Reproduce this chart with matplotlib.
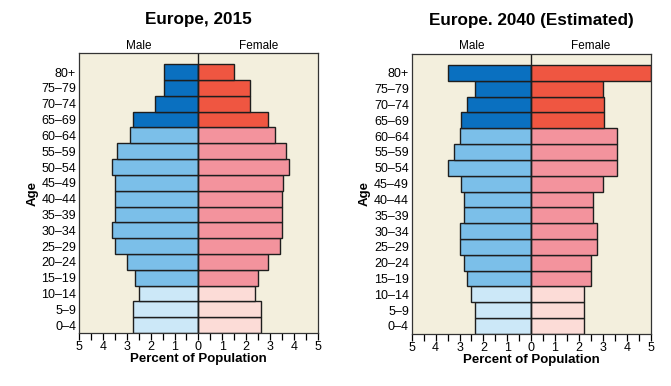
import matplotlib.pyplot as plt
import numpy as np

plt.rcParams['font.family'] = ['Liberation Sans', 'DejaVu Sans']

ages = ['0–4', '5–9', '10–14', '15–19', '20–24', '25–29', '30–34', '35–39',
        '40–44', '45–49', '50–54', '55–59', '60–64', '65–69', '70–74', '75–79', '80+']

# percent of population, listed from 0-4 up to 80+
male_2015 = [2.75, 2.75, 2.5, 2.65, 3.0, 3.5, 3.6, 3.5, 3.5, 3.5, 3.6, 3.4, 2.85, 2.75, 1.8, 1.45, 1.45]
female_2015 = [2.6, 2.6, 2.35, 2.5, 2.9, 3.4, 3.5, 3.5, 3.5, 3.55, 3.8, 3.65, 3.2, 2.9, 2.15, 2.15, 1.5]
male_2040 = [2.35, 2.35, 2.5, 2.7, 2.8, 3.0, 3.0, 2.8, 2.8, 2.95, 3.5, 3.25, 3.0, 2.95, 2.7, 2.35, 3.5]
female_2040 = [2.2, 2.2, 2.2, 2.5, 2.5, 2.75, 2.75, 2.6, 2.6, 3.0, 3.6, 3.6, 3.6, 3.05, 3.05, 3.0, 5.0]

titles = ['Europe, 2015', 'Europe. 2040 (Estimated)']

# colour bands: children, working age, elderly
male_cols = ['#cce8f8'] * 3 + ['#7bbfe9'] * 10 + ['#0a70c0'] * 4
female_cols = ['#fcdcd7'] * 3 + ['#f3939d'] * 10 + ['#ef5641'] * 4

fig = plt.figure(figsize=(6.71, 3.86), dpi=100)
axes = [fig.add_axes([0.1177, 0.137, 0.356, 0.7254]),
        fig.add_axes([0.6136, 0.135, 0.356, 0.7254])]

y = np.arange(len(ages))
for ax, male, female, title in zip(axes, [male_2015, male_2040],
                                   [female_2015, female_2040], titles):
    ax.set_facecolor('#f3efdd')
    ax.barh(y, -np.array(male), height=1.0, color=male_cols,
            edgecolor='#1e1e1e', linewidth=1.0)
    ax.barh(y, female, height=1.0, color=female_cols,
            edgecolor='#1e1e1e', linewidth=1.0)
    ax.axvline(0, color='#1e1e1e', lw=1.0)
    ax.set_xlim(-5, 5)
    ax.set_ylim(-0.5, 17.2)
    ax.set_yticks(y)
    ax.set_yticklabels(ages, fontsize=9)
    ax.tick_params(axis='y', length=0, pad=2)
    ax.set_xticks(np.arange(-5, 6, 1))
    ax.set_xticklabels([str(abs(v)) for v in range(-5, 6)], fontsize=9)
    ax.set_xticks(np.arange(-4.5, 5, 1), minor=True)
    ax.tick_params(axis='x', which='both', length=5, width=0.9, direction='out', pad=1)
    for s in ax.spines.values():
        s.set_color('#333333')
        s.set_linewidth(0.9)
    ax.set_xlabel('Percent of Population', fontsize=9.5, fontweight='bold', labelpad=0)
    ax.set_ylabel('Age', fontsize=9.5, fontweight='bold', labelpad=2)
    ax.text(0.25, 1.005, 'Male', transform=ax.transAxes, ha='center', va='bottom', fontsize=8.5)
    ax.text(0.75, 1.005, 'Female', transform=ax.transAxes, ha='center', va='bottom', fontsize=8.5)
    ax.set_title(title, fontsize=12.3, fontweight='bold', pad=21)

fig.savefig('out.png', dpi=100, facecolor='white')
